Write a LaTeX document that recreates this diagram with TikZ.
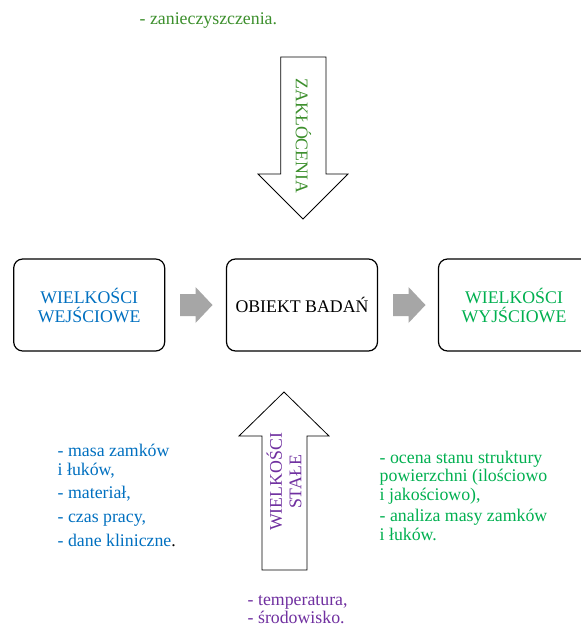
\documentclass[tikz,border=0pt]{standalone}
\usepackage{fontspec}
\setmainfont{Liberation Serif}
\definecolor{inblue}{HTML}{0070C0}
\definecolor{outgreen}{HTML}{00B050}
\definecolor{distgreen}{HTML}{3C8F2C}
\definecolor{constpurple}{HTML}{7030A0}
\definecolor{arrowgray}{HTML}{A6A6A6}
\tikzset{
  stagebox/.style={draw=black, line width=1.2pt, rounded corners=9pt,
    minimum width=151pt, minimum height=92pt, align=center, inner sep=0pt,
    font=\fontsize{17.8}{19}\selectfont},
  listtext/.style={anchor=base west, align=left, inner sep=0pt,
    font=\fontsize{17.8}{18.5}\selectfont},
  blockarrow/.style={draw=black, line width=0.8pt, fill=white},
  grayarrow/.style={fill=arrowgray, draw=none},
  rottext/.style={inner sep=0pt, align=center, font=\fontsize{17.8}{19.5}\selectfont}
}
\begin{document}
\begin{tikzpicture}[x=1pt,y=-1pt]
\clip (0,0) rectangle (581,630);
\fill[white] (0,0) rectangle (581,630);

% boxes
\node[stagebox, text=inblue] (in) at (89.2,305) {WIELKOŚCI\\WEJŚCIOWE};
\node[stagebox] (obj) at (302,305) {OBIEKT BADAŃ};
\node[stagebox, text=outgreen] (out) at (514,305) {WIELKOŚCI\\WYJŚCIOWE};

% gray arrows between boxes
\fill[grayarrow] (180,294) -- (195.5,294) -- (195.5,287) -- (212.5,305) -- (195.5,323) -- (195.5,316) -- (180,316) -- cycle;
\fill[grayarrow] (393,294) -- (408.5,294) -- (408.5,287) -- (425.5,305) -- (408.5,323) -- (408.5,316) -- (393,316) -- cycle;

% disturbance arrow (down)
\draw[blockarrow] (280.7,57) -- (326,57) -- (326,174) -- (348,174) -- (303,219) -- (258,174) -- (280.7,174) -- cycle;
\node[rottext, rotate=-90, text=distgreen] (zak) at (303.5,136) {ZAKŁÓCENIA};

% constants arrow (up)
\draw[blockarrow] (262,570) -- (307,570) -- (307,436) -- (329,436) -- (284,392) -- (239,436) -- (262,436) -- cycle;
\node[rottext, rotate=90, text=constpurple] (stale) at (284,482) {WIELKOŚCI\\STAŁE};

% top text
\node[listtext, text=distgreen] (zan) at (139.5,24) {- zanieczyszczenia.};

% left list (anchor = baseline of the last line)
\node[listtext, text=inblue] (l1) at (57.5,475) {- masa zamków\\i łuków,};
\node[listtext, text=inblue] (l2) at (57.5,498) {- materiał,};
\node[listtext, text=inblue] (l3) at (57.5,522) {- czas pracy,};
\node[listtext, text=inblue] (l4) at (57.5,546.5) {- dane kliniczne\textcolor{black}{.}};

% right list
\node[listtext, text=outgreen] (r1) at (379.5,500) {- ocena stanu struktury\\powierzchni (ilościowo\\i jakościowo),};
\node[listtext, text=outgreen] (r2) at (379.5,540) {- analiza masy zamków\\i łuków.};

% bottom list
\node[listtext, text=constpurple] (b1) at (247.5,605) {- temperatura,};
\node[listtext, text=constpurple] (b2) at (247.5,623) {- środowisko.};
\end{tikzpicture}
\end{document}
